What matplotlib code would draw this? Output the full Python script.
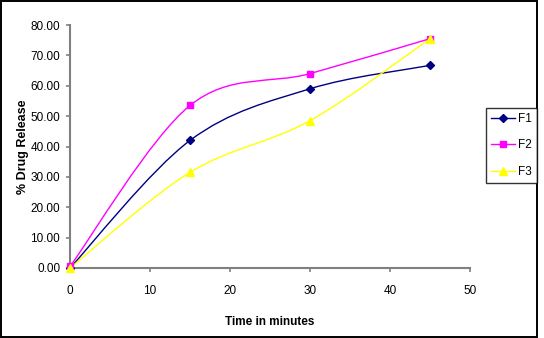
import numpy as np
import matplotlib
matplotlib.use("Agg")
import matplotlib.pyplot as plt
from matplotlib.path import Path
import matplotlib.patches as mpatches
from matplotlib.lines import Line2D

# data
time_min = [0, 15, 30, 45]
f1 = [0.0, 42.0, 59.0, 66.7]
f2 = [0.5, 53.5, 64.0, 75.5]
f3 = [0.0, 31.5, 48.5, 75.5]
series_names = ["F1", "F2", "F3"]
series_vals = [f1, f2, f3]
colors = ["#000080", "#FF00FF", "#FFFF00"]
markers = ["D", "s", "^"]
msizes = [4.5, 5, 5.5]


def smooth_path(xs, ys):
    # Excel-style smoothed line: bezier segments through the points
    pts = np.column_stack([xs, ys]).astype(float)
    n = len(pts)
    verts = [pts[0]]
    codes = [Path.MOVETO]
    for i in range(n - 1):
        p0 = pts[max(i - 1, 0)]
        p1 = pts[i]
        p2 = pts[i + 1]
        p3 = pts[min(i + 2, n - 1)]
        c1 = p1 + (p2 - p0) / 6.0
        c2 = p2 - (p3 - p1) / 6.0
        verts += [c1, c2, p2]
        codes += [Path.CURVE4] * 3
    return Path(verts, codes)


plt.rcParams['font.family'] = ['Liberation Sans', 'DejaVu Sans']

fig = plt.figure(figsize=(5.44, 3.38), dpi=100)
ax = fig.add_axes([70 / 544, 70 / 338, 400 / 544, 243 / 338])

for name, vals, c, m, ms in zip(series_names, series_vals, colors, markers, msizes):
    patch = mpatches.PathPatch(smooth_path(time_min, vals), facecolor='none',
                               edgecolor=c, linewidth=1.0, zorder=2)
    ax.add_patch(patch)
    ax.plot(time_min, vals, linestyle='none', marker=m, color=c,
            markersize=ms, zorder=3, clip_on=False)

ax.set_xlim(0, 50)
ax.set_ylim(0, 80)
ax.set_xticks(range(0, 51, 10))
ax.set_yticks(range(0, 81, 10))
ax.set_yticklabels([f"{v:.2f}" for v in range(0, 81, 10)])

for s in ['top', 'right']:
    ax.spines[s].set_visible(False)
for s in ['left', 'bottom']:
    ax.spines[s].set_color('#808080')
    ax.spines[s].set_linewidth(1.5)
ax.tick_params(axis='both', colors='#808080', width=1.2, length=3,
               labelsize=8.5, labelcolor='black')
ax.tick_params(axis='y', pad=4)
ax.tick_params(axis='x', pad=9)

ax.set_xlabel("Time in minutes", fontsize=8.5, fontweight='bold', labelpad=14)
ax.set_ylabel("% Drug Release", fontsize=9, fontweight='bold', va='center')
ax.yaxis.set_label_coords(-47 / 400, 0.5)

handles = [Line2D([0], [0], color=c, marker=m, markersize=ms, linewidth=1.0)
           for c, m, ms in zip(colors, markers, msizes)]
leg = fig.legend(handles, series_names, loc='upper left',
                 bbox_to_anchor=(486 / 544, 1 - 108 / 338), fontsize=8.5,
                 frameon=True, fancybox=False, handlelength=2.0,
                 handletextpad=0.25, borderpad=0.45, labelspacing=1.2,
                 borderaxespad=0)
leg.get_frame().set_edgecolor('black')
leg.get_frame().set_linewidth(1.0)

# outer chart border
fig.patches.append(mpatches.Rectangle((1 / 544, 1 / 338), 536 / 544, 336 / 338,
                                      transform=fig.transFigure, fill=False,
                                      edgecolor='black', linewidth=1.4))

fig.savefig("out.png", dpi=100, facecolor='white')
